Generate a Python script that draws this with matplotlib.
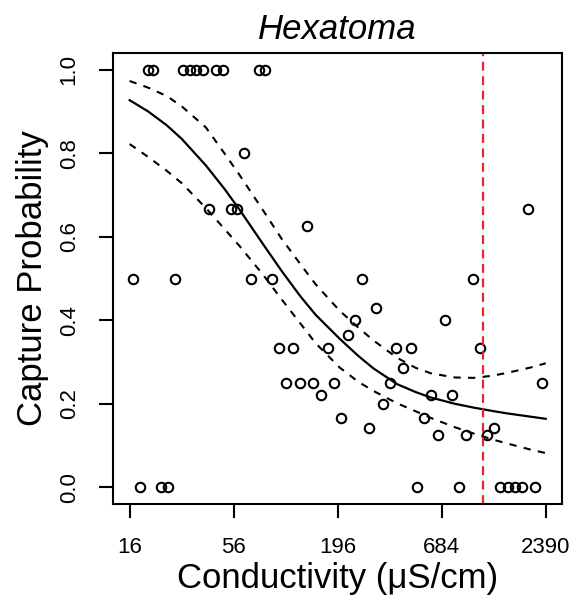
import matplotlib
matplotlib.use("Agg")
import matplotlib.pyplot as plt
from matplotlib.ticker import FixedLocator, FixedFormatter, NullLocator

plt.rcParams["font.family"] = ["Liberation Sans", "DejaVu Sans"]

# observed capture proportions, grouped by y value
cond_obs = [
    19.95, 21.3, 30.4, 32.9, 35.6, 38.6, 45.3, 49.1, 76.2, 81.6,
    63.4,
    41.8, 54.1, 58.1, 1942,
    134.6,
    16.7, 27.7, 69.2, 89.1, 262.4, 994.5,
    309.3,
    241.2, 714.1,
    221.8,
    96.5, 113.8, 173.2, 396.6, 470.8, 1078,
    431.3,
    104.6, 123.7, 145.7, 187.5, 365.9, 2296,
    159.2, 603.6, 773.0,
    336.4,
    203.9, 552.4,
    284.3, 1280,
    656.6, 911.1, 1177,
    18.2, 23.3, 25.4, 510.3, 840.7, 1375, 1514, 1647, 1791, 2104,
]
prob_obs = (
    [1.0] * 10 + [0.8] + [0.667] * 4 + [0.625] + [0.5] * 6 + [0.429]
    + [0.4] * 2 + [0.364] + [0.333] * 6 + [0.286] + [0.25] * 6
    + [0.222] * 3 + [0.2] + [0.167] * 2 + [0.143] * 2 + [0.125] * 3
    + [0.0] * 10
)

# fitted curve and confidence band
cond_fit = [16, 20, 25, 30, 40, 50, 60, 80, 100, 125, 150, 200, 250, 300,
            400, 500, 600, 800, 1000, 1250, 1500, 2000, 2390]
prob_fit = [0.927, 0.900, 0.867, 0.834, 0.771, 0.715, 0.665, 0.581, 0.517,
            0.457, 0.413, 0.356, 0.315, 0.285, 0.247, 0.228, 0.215, 0.200,
            0.191, 0.183, 0.177, 0.169, 0.164]
prob_upper = [0.973, 0.957, 0.937, 0.912, 0.862, 0.800, 0.748, 0.662, 0.594,
              0.534, 0.486, 0.423, 0.383, 0.352, 0.310, 0.286, 0.273, 0.263,
              0.262, 0.267, 0.274, 0.287, 0.297]
prob_lower = [0.822, 0.791, 0.758, 0.728, 0.669, 0.619, 0.578, 0.508, 0.449,
              0.392, 0.345, 0.287, 0.253, 0.231, 0.201, 0.182, 0.166, 0.144,
              0.129, 0.115, 0.105, 0.090, 0.082]

threshold = 1120

x_ticks = [16, 56, 196, 684, 2390]
y_ticks = [0.0, 0.2, 0.4, 0.6, 0.8, 1.0]
y_labels = ["0.0", "0.2", "0.4", "0.6", "0.8", "1.0"]

fig = plt.figure(figsize=(5.78, 6.01), dpi=100)
ax = fig.add_axes([0.1955, 0.1614, 0.7775, 0.7504])

ax.plot(cond_obs, prob_obs, "o", mfc="none", mec="black", ms=6.8, mew=1.5)
ax.plot(cond_fit, prob_fit, color="black", lw=1.6)
ax.plot(cond_fit, prob_upper, color="black", lw=1.5, dashes=(3.5, 3.5))
ax.plot(cond_fit, prob_lower, color="black", lw=1.5, dashes=(3.5, 3.5))
ax.axvline(threshold, color="#e8242c", lw=1.6, dashes=(4, 2.5))

ax.set_xscale("log")
lo, hi = 16, 2390
r = (hi / lo) ** 0.04
ax.set_xlim(lo / r, hi * r)
ax.set_ylim(-0.04, 1.04)

ax.xaxis.set_major_locator(FixedLocator(x_ticks))
ax.xaxis.set_major_formatter(FixedFormatter([str(t) for t in x_ticks]))
ax.xaxis.set_minor_locator(NullLocator())
ax.set_yticks(y_ticks)
ax.set_yticklabels(y_labels, rotation=90, va="center")

ax.tick_params(axis="both", length=10, width=1.5, pad=14, labelsize=16,
               direction="out")
for s in ax.spines.values():
    s.set_linewidth(1.5)

ax.set_xlabel("Conductivity (μS/cm)", fontsize=25, labelpad=3)
ax.set_ylabel("Capture Probability", fontsize=25, labelpad=7)
ax.set_title("Hexatoma", fontsize=25, style="italic", pad=10)

fig.savefig("out.png", dpi=100)
